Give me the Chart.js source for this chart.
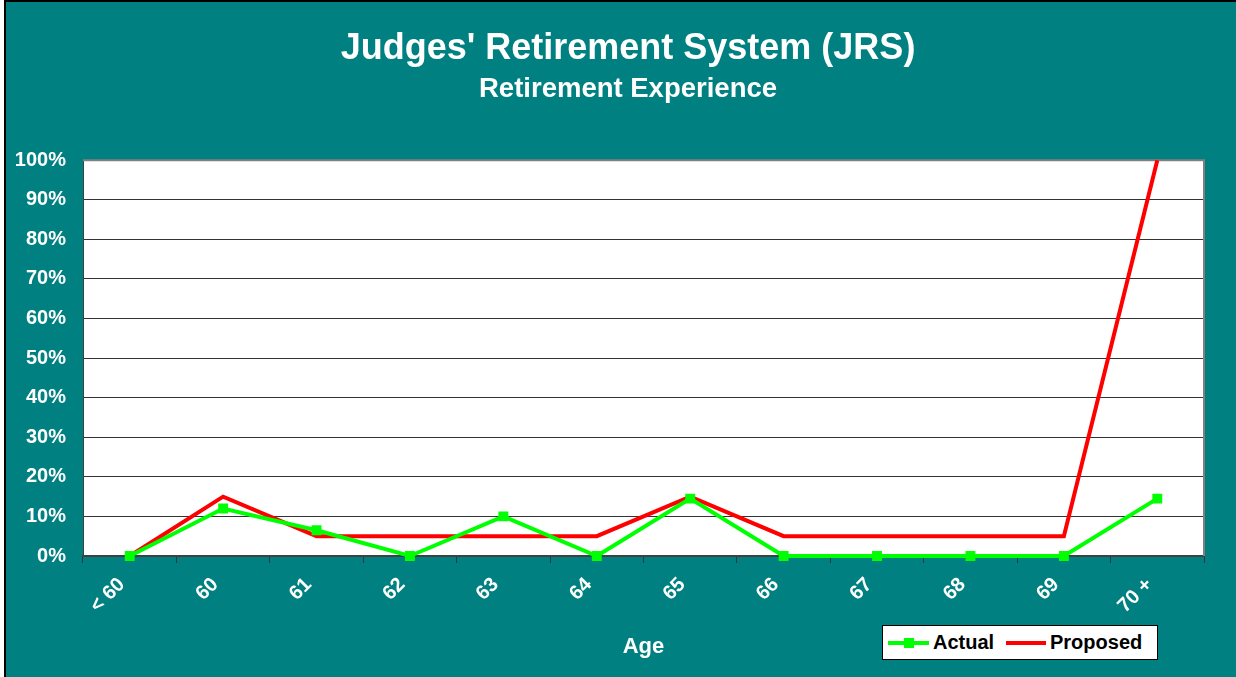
<!DOCTYPE html>
<html>
<head>
<meta charset="utf-8">
<title>Judges' Retirement System (JRS)</title>
<script src="https://cdn.jsdelivr.net/npm/chart.js@4.4.0/dist/chart.umd.min.js"></script>
<style>
  html, body { margin: 0; padding: 0; background: #fff; }
  #wrap { position: relative; width: 1236px; height: 677px; }
  #chart { display: block; }
  /* legend box, bottom right like the original */
  #legend {
    position: absolute; left: 882px; top: 625px; width: 274px; height: 33px;
    background: #fff; border: 1px solid #000;
    font: bold 20px "Liberation Sans", Arial, sans-serif; color: #000;
  }
  #legend .ln { position: absolute; top: 15px; height: 4px; }
  #legend .sq { position: absolute; top: 12px; width: 10px; height: 10px; background: #00ff00; }
  #legend .tx { position: absolute; top: 0; line-height: 33px; }
</style>
</head>
<body>
<div id="wrap">
  <canvas id="chart" width="1236" height="677"></canvas>
  <div id="legend">
    <span class="ln" style="left:5px;width:41px;background:#00ff00"></span>
    <span class="sq" style="left:21px"></span>
    <span class="tx" style="left:50px">Actual</span>
    <span class="ln" style="left:123px;width:40px;background:#ff0000"></span>
    <span class="tx" style="left:167px">Proposed</span>
  </div>
</div>
<script>
// data (percent of members retiring at each age)
const ages = ['< 60', '60', '61', '62', '63', '64', '65', '66', '67', '68', '69', '70 +'];
const actual = [0, 12, 6.5, 0, 10, 0, 14.5, 0, 0, 0, 0, 14.5];
const proposed = [0, 15, 5, 5, 5, 5, 15, 5, 5, 5, 5, 100];
const yMax = 100;
const yStep = 10;

Chart.defaults.font.family = '"Liberation Sans", Arial, sans-serif';

// teal background, white plot area, outer frame
const frame = {
  id: 'frame',
  afterLayout(chart) {
    // y labels stick out left of the padded scale box, don't clip them
    const y = chart.scales.y;
    y.left = 0;
    y.width = y.right;
  },
  beforeDraw(chart) {
    const { ctx, chartArea: a, width, height } = chart;
    ctx.save();
    ctx.fillStyle = '#fff';
    ctx.fillRect(0, 0, width, height);
    ctx.fillStyle = '#008080';
    ctx.fillRect(4, 0, width - 4, height);
    ctx.fillStyle = '#000';
    ctx.fillRect(4, 0, 2, height);
    ctx.fillRect(4, 0, width - 4, 2);
    ctx.fillStyle = '#fff';
    ctx.fillRect(a.left, a.top, a.right - a.left, a.bottom - a.top);
    ctx.restore();
  },
  beforeDatasetsDraw(chart) {
    const { ctx, chartArea: a } = chart;
    ctx.save();
    ctx.strokeStyle = '#808080';
    ctx.lineWidth = 2;
    ctx.beginPath();
    ctx.moveTo(a.left, a.top);
    ctx.lineTo(a.right, a.top);
    ctx.lineTo(a.right, a.bottom);
    ctx.stroke();
    ctx.restore();
  }
};

const ctx = document.getElementById('chart').getContext('2d');
const chart = new Chart(ctx, {
  type: 'line',
  data: {
    labels: ages,
    datasets: [{
      label: 'Actual',
      data: actual,
      borderColor: '#00ff00',
      backgroundColor: '#00ff00',
      borderWidth: 4,
      pointStyle: 'rect',
      pointRadius: 7,
      pointBorderWidth: 0,
      tension: 0,
      clip: 6
    }, {
      label: 'Proposed',
      data: proposed,
      borderColor: '#ff0000',
      backgroundColor: '#ff0000',
      borderWidth: 4,
      pointRadius: 0,
      tension: 0,
      clip: 6
    }]
  },
  options: {
    responsive: false,
    animation: false,
    // left/right padding also centres the titles at x=628 like the original
    layout: { padding: { left: 52, right: 32, top: 0, bottom: 17 } },
    plugins: {
      legend: { display: false },
      tooltip: { enabled: false },
      title: {
        display: true,
        text: "Judges' Retirement System (JRS)",
        color: '#fff',
        font: { size: 36, weight: 'bold' },
        padding: { top: 27, bottom: 0 }
      },
      subtitle: {
        display: true,
        text: 'Retirement Experience',
        color: '#fff',
        font: { size: 27.5, weight: 'bold' },
        padding: { top: 3, bottom: 54 }
      }
    },
    scales: {
      x: {
        offset: true,
        afterFit(s) { s.height = 104; },
        grid: {
          offset: true,
          drawOnChartArea: false,
          drawTicks: true,
          tickLength: 7,
          color: '#333'
        },
        border: { display: true, color: '#404040', width: 2 },
        ticks: {
          color: '#fff',
          font: { size: 20, weight: 'bold' },
          minRotation: 45,
          maxRotation: 45,
          autoSkip: false,
          padding: 10,
          labelOffset: -8
        },
        title: {
          display: true,
          text: 'Age',
          color: '#fff',
          font: { size: 22, weight: 'bold' },
          padding: 0
        }
      },
      y: {
        min: 0,
        max: yMax,
        afterFit(s) { s.width = 31; },
        grid: { color: '#333', lineWidth: 1, drawTicks: false },
        border: { display: true, color: '#404040', width: 1 },
        ticks: {
          stepSize: yStep,
          color: '#fff',
          font: { size: 20, weight: 'bold' },
          padding: 17,
          callback: v => v + '%'
        }
      }
    }
  },
  plugins: [frame]
});
</script>
</body>
</html>
